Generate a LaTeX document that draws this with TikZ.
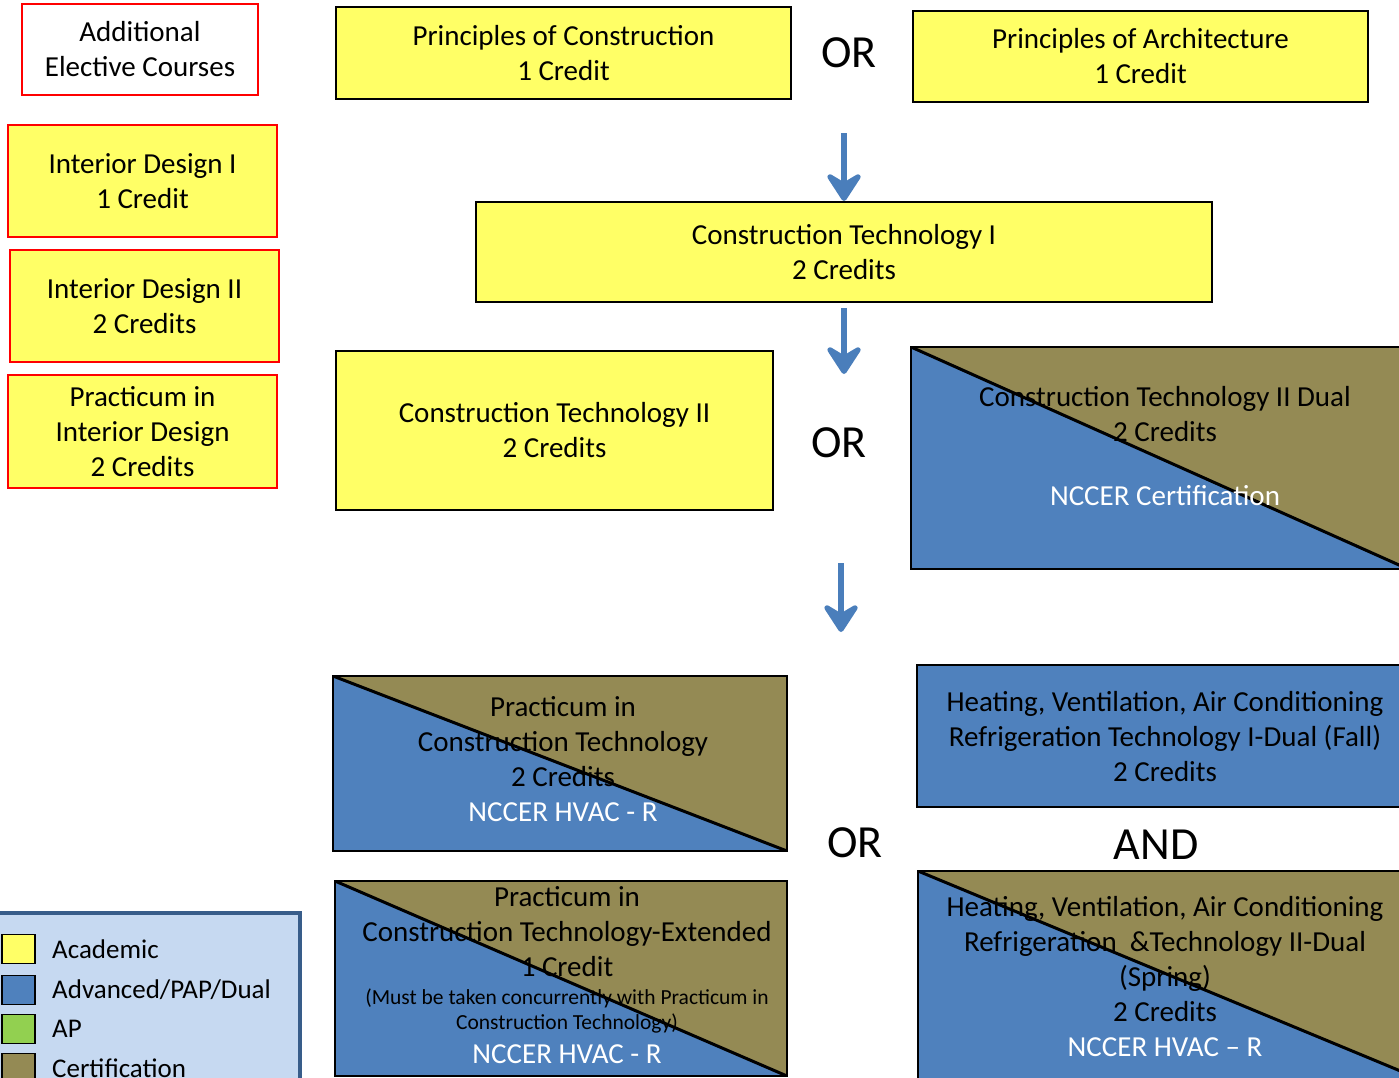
\documentclass[tikz,border=0pt]{standalone}
\usepackage{fontspec}
\setmainfont{Carlito}
\usetikzlibrary{arrows.meta}

\definecolor{acadyellow}{HTML}{FFFF66}
\definecolor{advblue}{HTML}{4F81BD}
\definecolor{apgreen}{HTML}{92D050}
\definecolor{certolive}{HTML}{948A54}
\definecolor{legendfill}{HTML}{C6D9F1}
\definecolor{legendline}{HTML}{385D8A}
\definecolor{arrowblue}{HTML}{4A7EBB}

\tikzset{
  course/.style={draw=black, line width=2pt, fill=acadyellow, align=center,
    font=\fontsize{29}{35}\selectfont},
  elective/.style={course, draw=red, line width=2.5pt},
  advbox/.style={course, fill=advblue},
  splitbox/.style={draw=black, line width=2pt, fill=advblue,
    path picture={
      \fill[certolive] (path picture bounding box.north west)
        -- (path picture bounding box.north east)
        -- (path picture bounding box.south east) -- cycle;
      \draw[line width=3pt] (path picture bounding box.north west)
        -- (path picture bounding box.south east);
    }},
  boxtext/.style={align=center, inner sep=0pt, font=\fontsize{29}{35}\selectfont},
  smalltext/.style={align=center, inner sep=0pt, font=\fontsize{21.5}{25}\selectfont},
  choice/.style={inner sep=0pt, font=\fontsize{46}{50}\selectfont},
  flowarrow/.style={draw=arrowblue, line width=6pt,
    -{Stealth[length=34pt, width=44pt, inset=13pt, round]}},
  swatch/.style={draw=black, line width=1.5pt, minimum width=33pt, minimum height=29pt, inner sep=0pt},
  legendtext/.style={anchor=west, inner sep=0pt, font=\fontsize{27}{30}\selectfont}
}

\begin{document}
\begin{tikzpicture}[x=1pt, y=-1pt]
\useasboundingbox (0,0) rectangle (1399,1077);
\clip (0,0) rectangle (1399,1077);

% electives column
\node[elective, fill=white, minimum width=236pt, minimum height=91pt] (elect) at (140,49.5) {Additional\\Elective Courses};
\node[elective, minimum width=269pt, minimum height=112pt] (intdes1) at (142.5,181) {Interior Design I\\1 Credit};
\node[elective, minimum width=269pt, minimum height=112pt] (intdes2) at (144.5,306) {Interior Design II\\2 Credits};
\node[elective, minimum width=269pt, minimum height=113pt] (pracid) at (142.5,431.5) {Practicum in\\Interior Design\\2 Credits};

% first level
\node[course, minimum width=455pt, minimum height=92pt] (princon) at (563.5,53) {Principles of Construction\\1 Credit};
\node[choice] (or1) at (849,53) {OR};
\node[course, minimum width=455pt, minimum height=91pt] (prinarch) at (1140.5,56.5) {Principles of Architecture\\1 Credit};

\node[course, minimum width=736pt, minimum height=100pt] (ct1) at (844,252) {Construction Technology I\\2 Credits};

% second level
\node[course, minimum width=437pt, minimum height=159pt] (ct2) at (554.5,430.5) {Construction Technology II\\2 Credits};
\node[choice] (or2) at (839,443) {OR};
\node[splitbox, minimum width=497pt, minimum height=222pt] (ct2dual) at (1159.5,458) {};
\node[boxtext] (ct2dualtxt) at (1165,414.5) {Construction Technology II Dual\\2 Credits};
\node[boxtext, text=white] (ct2dualcert) at (1165,496) {NCCER Certification};

% third level
\node[splitbox, minimum width=454pt, minimum height=175pt] (pct) at (560,763.5) {};
\node[boxtext] (pcttxt) at (563,759) {Practicum in\\Construction Technology\\2 Credits\\\textcolor{white}{NCCER HVAC - R}};

\node[splitbox, minimum width=452pt, minimum height=195pt] (pcte) at (561,978.5) {};
\node[boxtext] (pctetxt) at (567,932) {Practicum in\\Construction Technology-Extended\\1 Credit};
\node[smalltext] (pctenote) at (567,1010.5) {(Must be taken concurrently with Practicum in\\Construction Technology)};
\node[boxtext, text=white] (pctecert) at (567,1054) {NCCER HVAC - R};

\node[choice] (or3) at (855,843) {OR};

\node[advbox, minimum width=503pt, minimum height=142pt] (hvac1) at (1168.5,736) {};
\node[boxtext] (hvac1txt) at (1165,737) {Heating, Ventilation, Air Conditioning\\Refrigeration Technology I-Dual (Fall)\\2 Credits};
\node[choice] (and1) at (1156,845) {AND};
\node[splitbox, minimum width=509pt, minimum height=211pt] (hvac2) at (1172.5,976.5) {};
\node[boxtext] (hvac2txt) at (1165,976.5) {Heating, Ventilation, Air Conditioning\\Refrigeration\ \ \&Technology II-Dual\\(Spring)\\2 Credits\\\textcolor{white}{NCCER HVAC -- R}};

% arrows
\coordinate (a1top) at (844,133);
\draw[flowarrow] (a1top) -- (ct1.north);
\coordinate (a2tip) at (844,374);
\draw[flowarrow, shorten <=5pt] (ct1.south) -- (a2tip);
\coordinate (a3top) at (841,563);
\coordinate (a3tip) at (841,632);
\draw[flowarrow] (a3top) -- (a3tip);

% legend
\node[draw=legendline, fill=legendfill, line width=4pt, minimum width=303pt, minimum height=190pt, inner sep=0pt] (legend) at (148.5,1008) {};
\foreach \col/\txt/\yy [count=\k] in {acadyellow/Academic/949, advblue/{Advanced/PAP/Dual}/990, apgreen/AP/1029, certolive/Certification/1068}{
	\node[swatch, fill=\col] (sw\k) at (18.5,\yy) {};
	\node[legendtext] (lt\k) at (52,\yy) {\txt};
}
\end{tikzpicture}
\end{document}
